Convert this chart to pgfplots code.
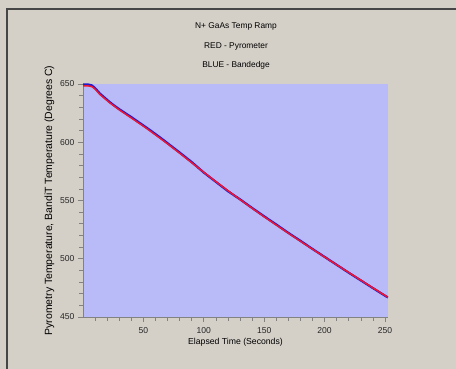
\documentclass[border=0pt]{standalone}
\usepackage{fontspec}
\setmainfont{Liberation Sans}
\usepackage{pgfplots}
\pgfplotsset{compat=1.18}
\definecolor{bggray}{RGB}{212,208,200}
\definecolor{plotbg}{RGB}{184,187,248}
\definecolor{framegray}{RGB}{70,70,70}
\definecolor{axgray}{RGB}{130,130,130}
\definecolor{pyro}{RGB}{238,22,48}
\definecolor{band}{RGB}{35,25,205}
\begin{document}
\begin{tikzpicture}
\useasboundingbox (0,0) rectangle (456bp,369bp);
\fill[bggray] (-2bp,-2bp) rectangle (458bp,371bp);
\draw[framegray, line width=1.5bp] (7bp,-2bp) -- (7bp,360bp) -- (458bp,360bp);
\node[anchor=base, font=\fontsize{8.4}{10}\selectfont] at (236bp,340.5bp) {N+ GaAs Temp Ramp};
\node[anchor=base, font=\fontsize{8.4}{10}\selectfont] at (236bp,320.5bp) {RED - Pyrometer};
\node[anchor=base, font=\fontsize{8.4}{10}\selectfont] at (236bp,301bp) {BLUE - Bandedge};
\begin{axis}[
  at={(83bp,52bp)}, anchor=south west,
  scale only axis, width=305bp, height=233bp,
  xmin=0, xmax=252.5, ymin=450, ymax=650,
  axis background/.style={fill=plotbg},
  axis x line*=bottom, axis y line*=left,
  axis line style={axgray, line width=0.8bp},
  xtick={50,100,150,200,250},
  minor xtick={10,20,...,250},
  ytick={450,500,...,650},
  minor ytick={460,470,...,640},
  tick align=outside,
  major tick length=5bp, minor tick length=3.5bp,
  tick style={axgray, line width=0.6bp},
  every tick label/.append style={font=\fontsize{8.6}{10}\selectfont, text=black!85},
  xticklabel style={yshift=-2bp},
  /pgf/number format/assume math mode=true,
  /pgf/number format/1000 sep={},
  xlabel={Elapsed Time (Seconds)},
  ylabel={Pyrometry Temperature, BandiT Temperature (Degrees C)},
  xlabel style={font=\fontsize{8.7}{10}\selectfont, yshift=2.5bp},
  ylabel style={font=\fontsize{10.5}{12}\selectfont, yshift=-1bp},
  clip=true,
]
\addplot[band, line width=2.2bp] coordinates {
(0,649.6) (4,649.6) (7,649.0) (9,647.4) (11,645.3) (14,641.8) (18,638.2)
(22,634.6) (26,631.4) (30,628.4) (35,625.0) (40,621.6) (45,618.0) (50,614.4)
(55,610.8) (60,607.0) (65,603.2) (70,599.2) (75,595.2) (80,591.2) (90,583.0)
(100,574.0) (105,570.0) (110,566.0) (120,558.0) (130,551.0) (140,543.6)
(150,536.4) (160,529.4) (170,522.2) (180,515.4) (190,508.4) (200,501.6)
(210,494.8) (220,488.0) (230,481.4) (240,474.8) (250,468.3) (252.5,466.8)
};
\addplot[pyro, line width=1.5bp] coordinates {
(0,648.4) (4,648.4) (7,647.9) (9,646.5) (11,644.5) (14,641.0) (18,637.5)
(22,634.0) (26,630.9) (30,627.8) (35,624.3) (40,620.8) (45,617.3) (50,613.8)
(55,610.1) (60,606.3) (65,602.5) (70,598.6) (75,594.6) (80,590.6) (90,582.4)
(100,574.2) (110,566.2) (120,558.4) (130,550.8) (140,543.3) (150,536.0)
(160,528.9) (170,521.9) (180,515.0) (190,508.2) (200,501.5) (210,494.8)
(220,488.2) (230,481.6) (240,475.0) (250,468.5) (252.5,466.9)
};
\end{axis}
\end{tikzpicture}
\end{document}
